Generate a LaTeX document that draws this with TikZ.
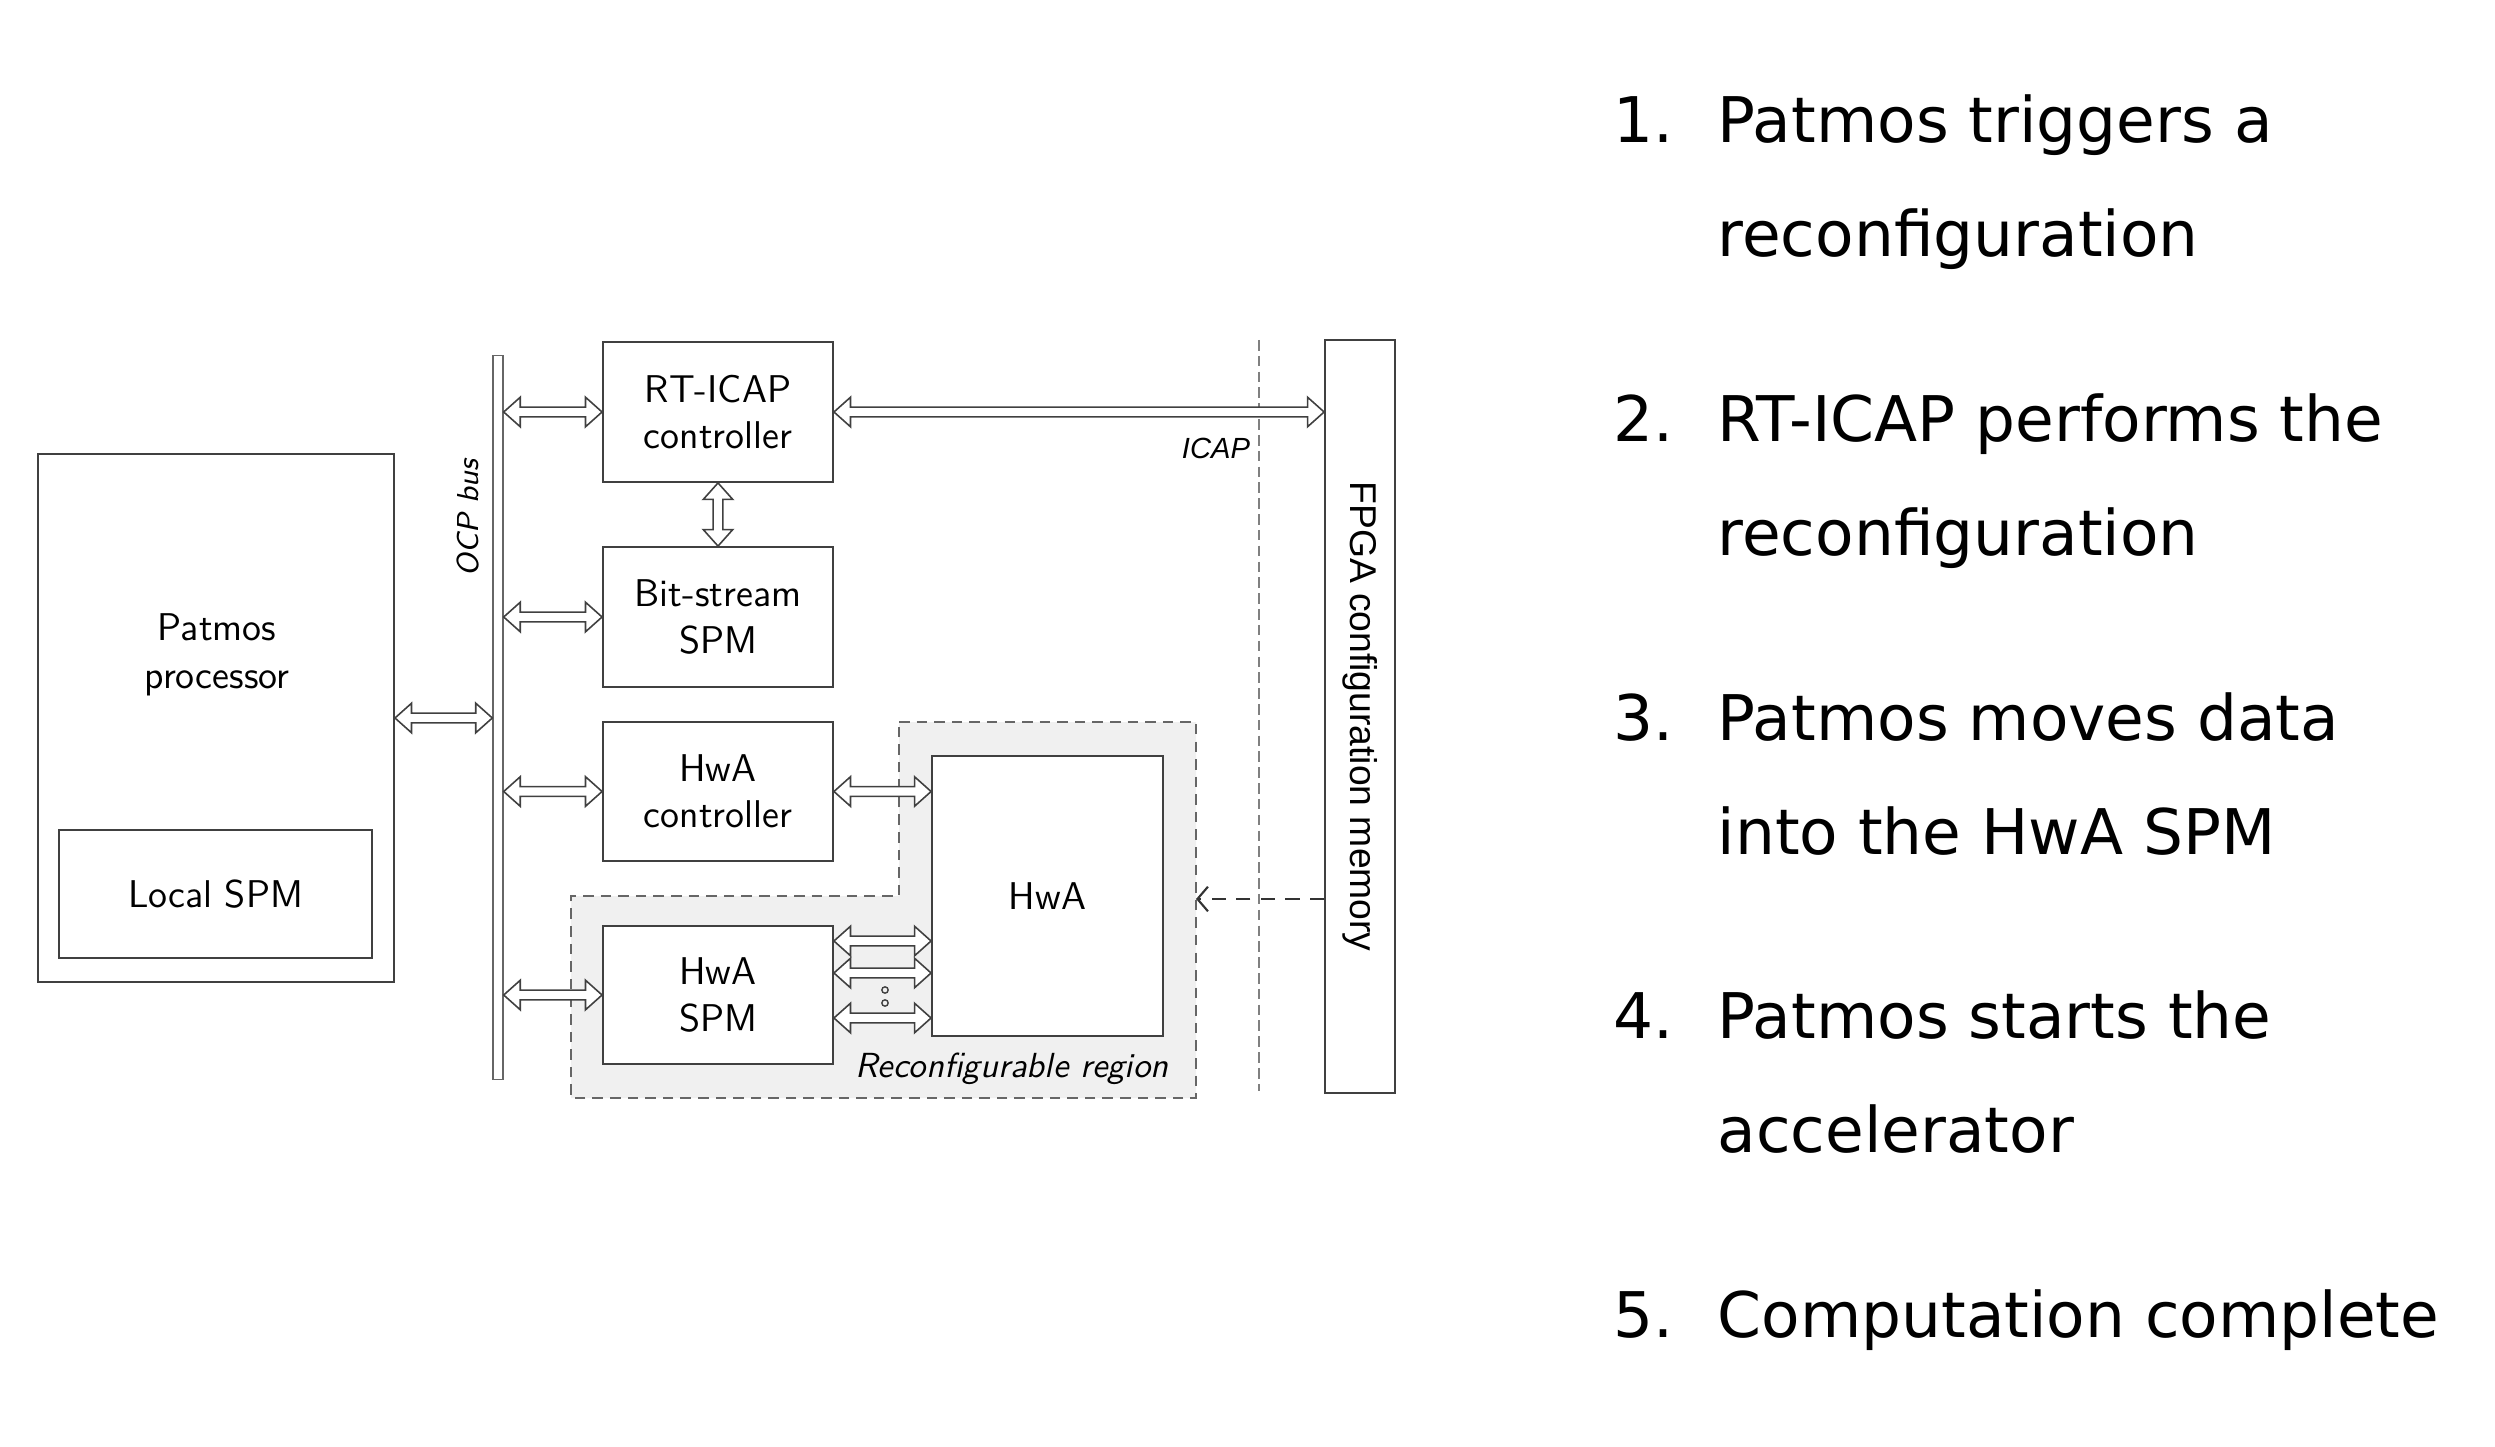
\documentclass[tikz,border=0pt]{standalone}
\usepackage{fontspec}
\newfontfamily\listfont{DejaVu Sans}
\newfontfamily\memfont{Liberation Sans}
\usetikzlibrary{arrows.meta,calc}

\tikzset{
  blk/.style={draw=black!75, line width=0.5pt, fill=white, align=center, inner sep=0pt,
    font=\sffamily\fontsize{11}{13.2}\selectfont},
  % hollow two-headed bus arrow
  dbl/.style={draw=black!75, line width=0.45pt, fill=white, to path={
    ($(\tikztostart)!4.7pt!(\tikztotarget)$) coordinate (ta)
    ($(\tikztotarget)!4.7pt!(\tikztostart)$) coordinate (tb)
    (\tikztostart) -- ($(ta)!4.2pt!90:(\tikztotarget)$) -- ($(ta)!1.4pt!90:(\tikztotarget)$)
    -- ($(tb)!1.4pt!-90:(\tikztostart)$) -- ($(tb)!4.2pt!-90:(\tikztostart)$) -- (\tikztotarget)
    -- ($(tb)!4.2pt!90:(\tikztostart)$) -- ($(tb)!1.4pt!90:(\tikztostart)$)
    -- ($(ta)!1.4pt!-90:(\tikztotarget)$) -- ($(ta)!4.2pt!-90:(\tikztotarget)$) -- cycle}},
  listtxt/.style={anchor=base west, inner sep=0pt, font=\listfont\fontsize{17.9}{21}\selectfont}
}

\begin{document}
\begin{tikzpicture}[x=0.01cm, y=-0.01cm]
\useasboundingbox (0,0) rectangle (2495,1446);

% reconfigurable region and divider
\draw[fill=black!6, draw=black!60, dash pattern=on 3pt off 2pt] (899,722) -- (1196,722) -- (1196,1098) -- (571,1098) -- (571,896) -- (899,896) -- cycle;
\coordinate (regE) at (1196,899);
\draw[black!50, dash pattern=on 3pt off 1.5pt] (1259,340) -- (1259,1091);

% processor and bus
\node[blk, minimum width=3.56cm, minimum height=5.28cm] (patmos) at (216,718) {};
\node[align=center, font=\sffamily\fontsize{11}{13.6}\selectfont] (patmostxt) at (217,655) {Patmos\\processor};
\node[blk, minimum width=3.13cm, minimum height=1.28cm] (localspm) at (215.5,894) {Local SPM};
\node[draw=black!60, fill=white, inner sep=0pt, minimum width=0.1cm, minimum height=7.23cm] (bus) at (498,717.5) {};
\node[rotate=90, font=\sffamily\itshape\fontsize{8.6}{10}\selectfont] (buslbl) at (468,518) {OCP bus};

% blocks
\node[blk, minimum width=2.3cm, minimum height=1.4cm] (rticap) at (718,412) {RT-ICAP\\controller};
\node[blk, minimum width=2.3cm, minimum height=1.4cm] (bitspm) at (718,617) {Bit-stream\\SPM};
\node[blk, minimum width=2.3cm, minimum height=1.39cm] (hwactrl) at (718,791.5) {HwA\\controller};
\node[blk, minimum width=2.3cm, minimum height=1.38cm] (hwaspm) at (718,995) {HwA\\SPM};
\node[blk, minimum width=2.31cm, minimum height=2.8cm] (hwa) at (1047.5,896) {HwA};
\node[blk, minimum width=0.7cm, minimum height=7.53cm] (fpga) at (1360,716.5) {};
\node[rotate=-90, font=\memfont\fontsize{10.6}{12}\selectfont] (fpgalbl) at (fpga) {FPGA configuration memory};
\node[anchor=base, font=\memfont\itshape\fontsize{8.3}{10}\selectfont] (icaplbl) at (1216,458) {ICAP};
\node[anchor=base, font=\sffamily\itshape\fontsize{9.9}{12}\selectfont] (reglbl) at (1012,1077) {Reconfigurable region};

% connections
\draw[dbl] (patmos.east) to (patmos.east -| bus.west);
\foreach \n in {rticap,bitspm,hwactrl,hwaspm}
  \draw[dbl] (\n.west -| bus.east) to (\n.west);
\draw[dbl] (rticap.south) to (bitspm.north);
\draw[dbl] (rticap.east) to (rticap.east -| fpga.west);
\draw[dbl] (hwactrl.east) to (hwactrl.east -| hwa.west);
\foreach \y in {941,973,1018}
  \draw[dbl] (hwaspm.east |- 0,\y) to (hwa.west |- 0,\y);
\foreach \y in {990,1003}
  \draw[black!75, line width=0.4pt] (885,\y) circle (0.9pt);
\draw[black!80, line width=0.6pt, dash pattern=on 4pt off 3pt, -{Straight Barb[length=3pt,width=7pt]}] (fpga.west |- regE) -- (regE);

% steps
\foreach \i/\a/\b in {1/Patmos triggers a/reconfiguration, 2/RT-ICAP performs the/reconfiguration,
    3/Patmos moves data/into the HwA SPM, 4/Patmos starts the/accelerator, 5/Computation complete/}{
  \pgfmathsetmacro\yy{143+298.5*(\i-1)}
  \node[listtxt] (num\i) at (1613,\yy) {\i.};
  \node[listtxt] (step\i) at (1717,\yy) {\a};
  \node[listtxt] (stepb\i) at (1717,\yy+114) {\b};
}
\end{tikzpicture}
\end{document}
